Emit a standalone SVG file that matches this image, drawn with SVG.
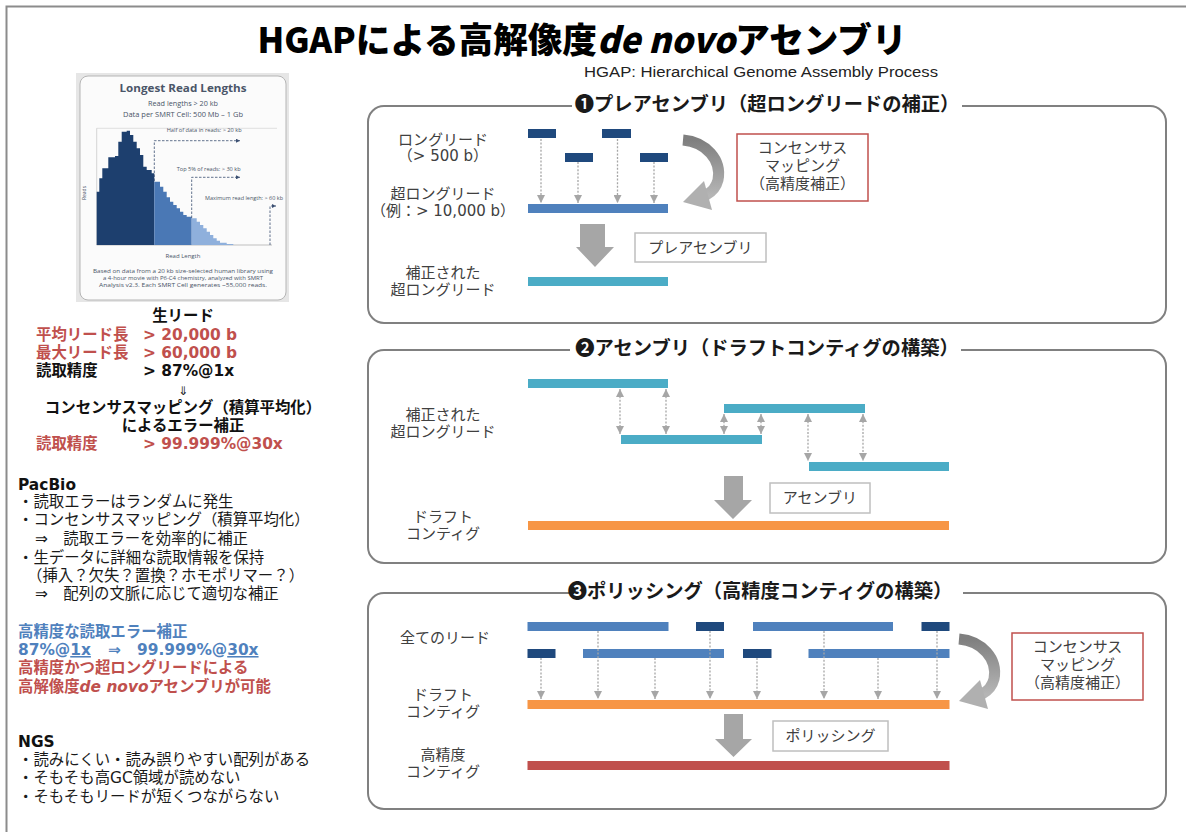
<svg xmlns="http://www.w3.org/2000/svg" width="1186" height="832" viewBox="0 0 1186 832">
<style>
.jp{font-family:"DejaVu Sans","Noto Sans CJK JP",sans-serif;}
.lbl{font-family:"DejaVu Sans","Noto Sans CJK JP",sans-serif;font-size:15px;fill:#404040;text-anchor:middle;}
.ptitle{font-family:"Noto Sans CJK JP","DejaVu Sans",sans-serif;font-size:19.3px;font-weight:bold;fill:#1a1a1a;text-anchor:middle;}
.lt{font-family:"DejaVu Sans","Noto Sans CJK JP",sans-serif;font-size:15.4px;fill:#1a1a1a;}
.lb{font-family:"DejaVu Sans","Noto Sans CJK JP",sans-serif;font-size:15.4px;font-weight:bold;}
.red{fill:#c0504d;}
.blue{fill:#4f81bd;}
.blk{fill:#111;}
.panel{fill:none;stroke:#808080;stroke-width:2;}
.gap{fill:#fff;}
.dk{fill:#1f497d;}
.md{fill:#4f81bd;}
.cy{fill:#4bacc6;}
.or{fill:#f79646;}
.rd{fill:#c0504d;}
.bigarr{fill:#a6a6a6;}
.tbox{fill:#fff;stroke:#bfbfbf;stroke-width:1.5;}
.cbox{fill:#fff;stroke:#c0504d;stroke-width:1.5;}
.dot{fill:none;stroke:#a6a6a6;stroke-width:1.3;stroke-dasharray:2 1.6;}
.hs{font-family:"Open Sans","DejaVu Sans",sans-serif;fill:#4a5568;}
.cdash{fill:none;stroke:#3b4f72;stroke-width:0.8;stroke-dasharray:2.5 1.5;}
</style>
<defs>
<marker id="ah" markerUnits="userSpaceOnUse" markerWidth="8" markerHeight="8" viewBox="0 0 8 8" refX="8" refY="4" orient="auto-start-reverse">
<path d="M0,0 L8,4 L0,8 Z" fill="#a6a6a6"/>
</marker>
<marker id="cah" markerUnits="userSpaceOnUse" markerWidth="4" markerHeight="4" viewBox="0 0 4 4" refX="4" refY="2" orient="auto">
<path d="M0,0 L4,2 L0,4 Z" fill="#3b4f72"/>
</marker>
<linearGradient id="cg" x1="0" y1="0" x2="0" y2="1">
<stop offset="0" stop-color="#7f7f7f"/>
<stop offset="1" stop-color="#b5b5b5"/>
</linearGradient>
<g id="curve">
<path d="M683,140 C706,142 722,160 718,180 C716,188 712,192 706,195" fill="none" stroke="url(#cg)" stroke-width="11"/>
<polygon points="683,202 704,181 712,210" fill="#b0b0b0"/>
</g>
</defs>

<rect width="1186" height="832" fill="#fff"/>
<path d="M6.5,832 V6.5 H1186" fill="none" stroke="#8c8c8c" stroke-width="2"/>

<g id="title">
<text x="582" y="53" text-anchor="middle" font-family="Noto Sans CJK JP, sans-serif" font-size="35" font-weight="900" fill="#000" textLength="649" lengthAdjust="spacingAndGlyphs">HGAPによる高解像度<tspan font-style="italic">de novo</tspan>アセンブリ</text>
<text x="584" y="77" font-family="Liberation Sans, sans-serif" font-size="14" fill="#222" textLength="354" lengthAdjust="spacingAndGlyphs">HGAP: Hierarchical Genome Assembly Process</text>
</g>

<g id="histogram">
<rect x="76" y="73" width="213" height="229" fill="#e6e6e6"/>
<rect x="80" y="76" width="206" height="224" rx="8" fill="#fbfbfb" stroke="#b5b5b5" stroke-width="1"/>
<text class="hs" x="183" y="92" text-anchor="middle" font-size="11" font-weight="bold" fill="#3d4f6e" textLength="127" lengthAdjust="spacingAndGlyphs">Longest Read Lengths</text>
<text class="hs" x="183" y="105.5" text-anchor="middle" font-size="6.5" textLength="70" lengthAdjust="spacingAndGlyphs">Read lengths &gt; 20 kb</text>
<text class="hs" x="183" y="116.5" text-anchor="middle" font-size="6.5" textLength="120" lengthAdjust="spacingAndGlyphs">Data per SMRT Cell: 500 Mb – 1 Gb</text>
<line x1="96.7" y1="128.3" x2="277" y2="128.3" stroke="#ccc" stroke-width="0.6"/>
<line x1="96.7" y1="128.3" x2="96.7" y2="245" stroke="#bbb" stroke-width="0.6"/>
<line x1="96.7" y1="245" x2="272" y2="245" stroke="#999" stroke-width="0.6"/>
<path d="M96.7,245 V191.7 H99.3 V178.3 H102.3 V168.3 H108.3 V157.3 H115 V156 H118.3 V141.7 H121.7 V131.7 H126.7 V130.7 H130 V135 H133.3 V141.7 H136.7 V148.3 H140 V155 H143.3 V166.7 H146.7 V170 H151.7 V173.3 H154.3 V245 Z" fill="#1d3f6e"/>
<path d="M154.3,245 V181.7 H160 V186.7 H163.3 V191.7 H166.7 V197.3 H170 V201.7 H173.3 V205 H176.7 V208.3 H180 V211.7 H183.3 V215 H186.7 V216.7 H191.7 V245 Z" fill="#4a78b5"/>
<path d="M191.7,245 V218.3 H196.7 V221.7 H200 V225 H203.3 V228.3 H206.7 V231.7 H210 V235 H213.3 V238.3 H216.7 V240.7 H220 V242.7 H226.7 V244 H233.3 V245 Z" fill="#8fb0dc"/>
<path class="cdash" d="M154.3,181 V140.7 H240" marker-end="url(#cah)"/>
<path class="cdash" d="M191.7,218 V177.3 H240" marker-end="url(#cah)"/>
<path class="cdash" d="M270,245 V206 H276" marker-end="url(#cah)"/>
<text class="hs" x="166.7" y="132" font-size="5" textLength="75" lengthAdjust="spacingAndGlyphs">Half of data in reads: &gt; 20 kb</text>
<text class="hs" x="176.7" y="171" font-size="5" textLength="64" lengthAdjust="spacingAndGlyphs">Top 5% of reads: &gt; 30 kb</text>
<text class="hs" x="205" y="200" font-size="5" textLength="78" lengthAdjust="spacingAndGlyphs">Maximum read length: &gt; 60 kb</text>
<text class="hs" x="0" y="0" font-size="5" text-anchor="middle" transform="translate(86,193) rotate(-90)">Reads</text>
<text class="hs" x="183" y="258" text-anchor="middle" font-size="6">Read Length</text>
<text class="hs" x="183" y="272.5" text-anchor="middle" font-size="5.5" textLength="180" lengthAdjust="spacingAndGlyphs">Based on data from a 20 kb size-selected human library using</text>
<text class="hs" x="183" y="279.5" text-anchor="middle" font-size="5.5" textLength="160" lengthAdjust="spacingAndGlyphs">a 4-hour movie with P6-C4 chemistry, analyzed with SMRT</text>
<text class="hs" x="183" y="286.5" text-anchor="middle" font-size="5.5" textLength="168" lengthAdjust="spacingAndGlyphs">Analysis v2.3. Each SMRT Cell generates ~55,000 reads.</text>
</g>

<g id="raw-reads">
<text class="lb blk" x="183" y="321" text-anchor="middle">生リード</text>
<text class="lb red" x="36" y="340">平均リード長</text>
<text class="lb red" x="143" y="340">&gt; 20,000 b</text>
<text class="lb red" x="36" y="358">最大リード長</text>
<text class="lb red" x="143" y="358">&gt; 60,000 b</text>
<text class="lb blk" x="36" y="376">読取精度</text>
<text class="lb blk" x="143" y="376">&gt; 87%@1x</text>
<text x="183" y="395" text-anchor="middle" font-family="DejaVu Sans, sans-serif" font-size="12" fill="#222">⇓</text>
<text class="lb blk" x="183" y="413" text-anchor="middle">コンセンサスマッピング（積算平均化）</text>
<text class="lb blk" x="183" y="431" text-anchor="middle">によるエラー補正</text>
<text class="lb red" x="36" y="449">読取精度</text>
<text class="lb red" x="143" y="449">&gt; 99.999%@30x</text>
</g>

<g id="pacbio">
<text class="lb blk" x="18" y="490">PacBio</text>
<text class="lt" x="18" y="507">・読取エラーはランダムに発生</text>
<text class="lt" x="18" y="525">・コンセンサスマッピング（積算平均化）</text>
<text class="lt" x="35" y="544">⇒　読取エラーを効率的に補正</text>
<text class="lt" x="18" y="563">・生データに詳細な読取情報を保持</text>
<text class="lt" x="27" y="581">（挿入？欠失？置換？ホモポリマー？）</text>
<text class="lt" x="35" y="599">⇒　配列の文脈に応じて適切な補正</text>
</g>

<g id="summary">
<text class="lb blue" x="18" y="637">高精度な読取エラー補正</text>
<text class="lb blue" x="18" y="655">87%@<tspan text-decoration="underline">1x</tspan></text>
<text class="lb blue" x="108" y="655">⇒</text>
<text class="lb blue" x="137" y="655">99.999%@<tspan text-decoration="underline">30x</tspan></text>
<text class="lb red" x="18" y="673">高精度かつ超ロングリードによる</text>
<text class="lb red" x="18" y="692">高解像度<tspan font-style="italic">de novo</tspan>アセンブリが可能</text>
</g>

<g id="ngs">
<text class="lb blk" x="18" y="747">NGS</text>
<text class="lt" x="18" y="765">・読みにくい・読み誤りやすい配列がある</text>
<text class="lt" x="18" y="783">・そもそも高GC領域が読めない</text>
<text class="lt" x="18" y="802">・そもそもリードが短くつながらない</text>
</g>

<g id="panel1">
<rect class="panel" x="368" y="106" width="798" height="217" rx="16"/>
<rect class="gap" x="572" y="96" width="390" height="20"/>
<text class="ptitle" x="767" y="111">❶プレアセンブリ（超ロングリードの補正）</text>
<text class="lbl" x="443" y="145">ロングリード</text>
<text class="lbl" x="443" y="161">（&gt; 500 b）</text>
<text class="lbl" x="443" y="199">超ロングリード</text>
<text class="lbl" x="443" y="216">（例：&gt; 10,000 b）</text>
<text class="lbl" x="443" y="278">補正された</text>
<text class="lbl" x="443" y="295">超ロングリード</text>
<rect class="dk" x="528" y="129" width="28" height="9"/>
<rect class="dk" x="602" y="129" width="29" height="9"/>
<rect class="dk" x="565" y="153" width="28" height="9"/>
<rect class="dk" x="640" y="153" width="28" height="9"/>
<rect class="md" x="528" y="204" width="140" height="9"/>
<rect class="cy" x="528" y="277" width="140" height="9"/>
<polygon class="bigarr" points="580,224 605,224 605,247 614,247 595,267 576,247 580,247"/>
<rect class="tbox" x="635" y="233" width="131" height="29"/>
<text class="lbl" x="700.5" y="253">プレアセンブリ</text>
<use href="#curve"/>
<rect class="cbox" x="737" y="134" width="131" height="67"/>
<text class="lbl" x="802.5" y="153">コンセンサス</text>
<text class="lbl" x="802.5" y="171">マッピング</text>
<text class="lbl" x="802.5" y="189">（高精度補正）</text>
</g>

<g id="panel2">
<rect class="panel" x="368" y="350" width="798" height="213" rx="16"/>
<rect class="gap" x="570" y="340" width="391" height="20"/>
<text class="ptitle" x="767" y="355">❷アセンブリ（ドラフトコンティグの構築）</text>
<text class="lbl" x="443" y="420">補正された</text>
<text class="lbl" x="443" y="437">超ロングリード</text>
<text class="lbl" x="443" y="522">ドラフト</text>
<text class="lbl" x="443" y="539">コンティグ</text>
<rect class="cy" x="528" y="379" width="140" height="9"/>
<rect class="cy" x="621" y="435" width="141" height="9"/>
<rect class="cy" x="724" y="404" width="141" height="9"/>
<rect class="cy" x="809" y="462" width="140" height="9"/>
<rect class="or" x="528" y="521" width="421" height="9"/>
<polygon class="bigarr" points="724,476 743,476 743,500 752,500 733,519 714,500 724,500"/>
<rect class="tbox" x="770" y="483" width="100" height="30"/>
<text class="lbl" x="820" y="503">アセンブリ</text>
</g>

<g id="panel3">
<rect class="panel" x="368" y="593" width="798" height="216" rx="16"/>
<rect class="gap" x="572" y="583" width="391" height="20"/>
<text class="ptitle" x="760" y="598">❸ポリッシング（高精度コンティグの構築）</text>
<text class="lbl" x="445" y="643">全てのリード</text>
<text class="lbl" x="443" y="700">ドラフト</text>
<text class="lbl" x="443" y="717">コンティグ</text>
<text class="lbl" x="443" y="760">高精度</text>
<text class="lbl" x="443" y="777">コンティグ</text>
<rect class="md" x="527.5" y="622" width="141" height="9"/>
<rect class="dk" x="696" y="622" width="28" height="9"/>
<rect class="md" x="753" y="622" width="140" height="9"/>
<rect class="dk" x="921.5" y="622" width="28" height="9"/>
<rect class="dk" x="527.5" y="649" width="28" height="9"/>
<rect class="md" x="583" y="649" width="141" height="9"/>
<rect class="dk" x="743" y="649" width="28.5" height="9"/>
<rect class="md" x="808.5" y="649" width="141" height="9"/>
<rect class="or" x="527.5" y="700" width="422" height="9"/>
<polygon class="bigarr" points="724,714 743,714 743,739 752,739 733.5,757 715,739 724,739"/>
<rect class="tbox" x="773" y="721" width="115" height="30"/>
<text class="lbl" x="830.5" y="741">ポリッシング</text>
<rect class="rd" x="527.5" y="761" width="422" height="9"/>
<use href="#curve" transform="translate(276,499)"/>
<rect class="cbox" x="1012" y="633" width="131" height="67"/>
<text class="lbl" x="1077.5" y="652">コンセンサス</text>
<text class="lbl" x="1077.5" y="670">マッピング</text>
<text class="lbl" x="1077.5" y="688">（高精度補正）</text>
</g>

<g id="connectors">
<line class="dot" x1="541" y1="139" x2="541" y2="203" marker-end="url(#ah)"/>
<line class="dot" x1="578" y1="162" x2="578" y2="203" marker-end="url(#ah)"/>
<line class="dot" x1="617.5" y1="139" x2="617.5" y2="203" marker-end="url(#ah)"/>
<line class="dot" x1="654" y1="162" x2="654" y2="203" marker-end="url(#ah)"/>

<line class="dot" x1="620" y1="389" x2="620" y2="434" marker-start="url(#ah)" marker-end="url(#ah)"/>
<line class="dot" x1="666" y1="389" x2="666" y2="434" marker-start="url(#ah)" marker-end="url(#ah)"/>
<line class="dot" x1="724" y1="414" x2="724" y2="434" marker-start="url(#ah)" marker-end="url(#ah)"/>
<line class="dot" x1="761" y1="414" x2="761" y2="434" marker-start="url(#ah)" marker-end="url(#ah)"/>
<line class="dot" x1="808" y1="414" x2="808" y2="461" marker-start="url(#ah)" marker-end="url(#ah)"/>
<line class="dot" x1="863" y1="414" x2="863" y2="461" marker-start="url(#ah)" marker-end="url(#ah)"/>

<line class="dot" x1="541" y1="658" x2="541" y2="699" marker-end="url(#ah)"/>
<line class="dot" x1="598" y1="631" x2="598" y2="699" marker-end="url(#ah)"/>
<line class="dot" x1="655" y1="658" x2="655" y2="699" marker-end="url(#ah)"/>
<line class="dot" x1="710" y1="631" x2="710" y2="699" marker-end="url(#ah)"/>
<line class="dot" x1="757" y1="658" x2="757" y2="699" marker-end="url(#ah)"/>
<line class="dot" x1="824" y1="631" x2="824" y2="699" marker-end="url(#ah)"/>
<line class="dot" x1="878" y1="658" x2="878" y2="699" marker-end="url(#ah)"/>
<line class="dot" x1="937" y1="631" x2="937" y2="699" marker-end="url(#ah)"/>
</g>
</svg>
